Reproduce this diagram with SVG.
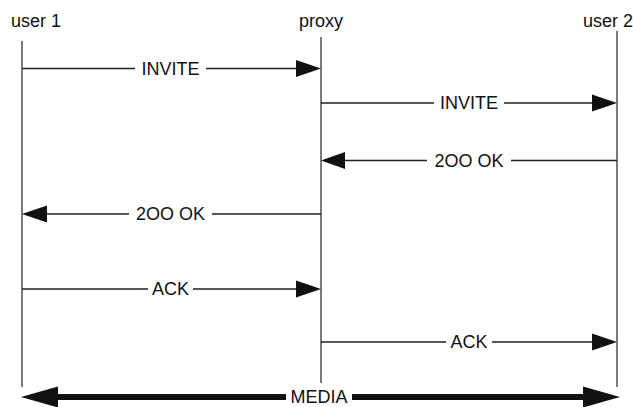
<svg xmlns="http://www.w3.org/2000/svg" width="633" height="407" viewBox="0 0 633 407">
<style>
text{font-family:"Liberation Sans",Arial,sans-serif;font-size:18px;fill:#111}
.ll{stroke:#222;stroke-width:1.2;fill:none}
.msg{stroke:#222;stroke-width:1.3;fill:none}
.head{fill:#111}
.media{stroke:#111;stroke-width:6;fill:none}
</style>
<rect width="633" height="407" fill="#fff"/>
<g id="user1">
<text x="11" y="27">user 1</text>
<line class="ll" x1="22" y1="41" x2="22" y2="387"/>
</g>
<g id="proxy">
<text x="321" y="27" text-anchor="middle">proxy</text>
<line class="ll" x1="321" y1="37" x2="321" y2="383"/>
</g>
<g id="user2">
<text x="583" y="27">user 2</text>
<line class="ll" x1="617" y1="31" x2="617" y2="387"/>
</g>
<g id="connectors">
<path class="msg" d="M22 68.5H135M206 68.5H300"/>
<polygon class="head" points="296,60 321,68.5 296,77"/>
<text x="170.5" y="74.5" text-anchor="middle">INVITE</text>
<path class="msg" d="M321 103H434M504 103H596"/>
<polygon class="head" points="592,94.5 617,103 592,111.5"/>
<text x="469" y="109" text-anchor="middle">INVITE</text>
<path class="msg" d="M617 160.5H511M427 160.5H341"/>
<polygon class="head" points="345,152 321,160.5 345,169"/>
<text x="469" y="166.5" text-anchor="middle">2OO OK</text>
<path class="msg" d="M321 214H212M129 214H43"/>
<polygon class="head" points="47,205.5 22,214 47,222.5"/>
<text x="170.5" y="220" text-anchor="middle">2OO OK</text>
<path class="msg" d="M22 289H148M193 289H300"/>
<polygon class="head" points="296,280.5 321,289 296,297.5"/>
<text x="170.5" y="295" text-anchor="middle">ACK</text>
<path class="msg" d="M321 342H446M492 342H596"/>
<polygon class="head" points="592,333.5 617,342 592,350.5"/>
<text x="469" y="348" text-anchor="middle">ACK</text>
<path class="media" d="M55 397H286M352 397H586"/>
<polygon class="head" points="58,386.5 21,397 58,407.5"/>
<polygon class="head" points="583,386.5 620,397 583,407.5"/>
<text x="319" y="403" text-anchor="middle">MEDIA</text>
</g>
</svg>
